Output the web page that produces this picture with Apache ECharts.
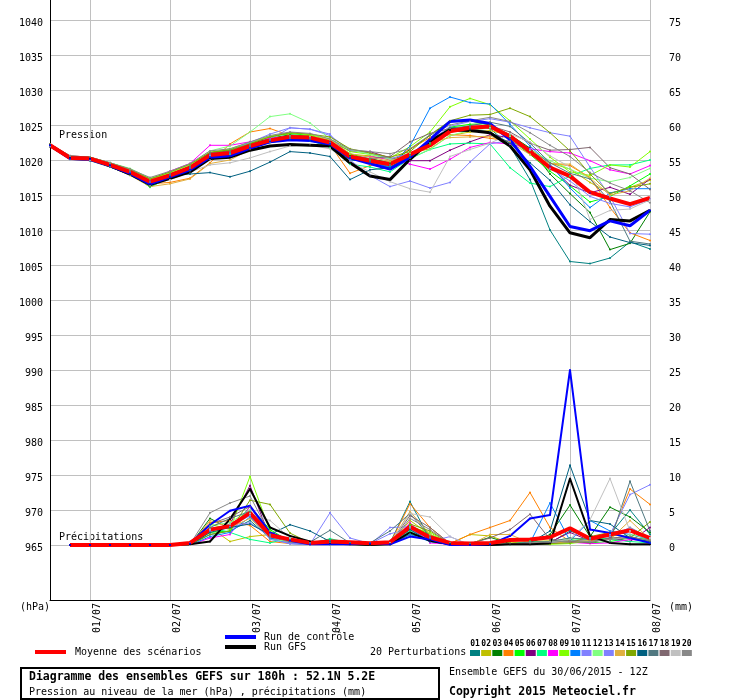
<!DOCTYPE html>
<html>
<head>
<meta charset="UTF-8">
<title>Ensemble GEFS</title>
<script src="https://cdn.jsdelivr.net/npm/echarts@6/dist/echarts.min.js"></script>
<style>
  body { margin: 0; background: #fff; }
  #main { width: 740px; height: 700px; }
</style>
</head>
<body>
<div id="main"></div>
<script type="text/javascript">
// echeances (pas de 6h, run du 30/06 12Z)
var times = ['30/06 12h','30/06 18h','01/07 00h','01/07 06h','01/07 12h','01/07 18h',
  '02/07 00h','02/07 06h','02/07 12h','02/07 18h','03/07 00h','03/07 06h','03/07 12h','03/07 18h',
  '04/07 00h','04/07 06h','04/07 12h','04/07 18h','05/07 00h','05/07 06h','05/07 12h','05/07 18h',
  '06/07 00h','06/07 06h','06/07 12h','06/07 18h','07/07 00h','07/07 06h','07/07 12h','07/07 18h','08/07 00h'];

var pressTicks = [965, 1040];
var precTicks = [0, 75];

var memberColors = ['#008080','#c0c000','#008000','#ff8000','#00ff00','#800080','#00ff80','#ff00ff','#80ff00','#0080ff',
  '#8080ff','#80ff80','#8080ff','#e0b040','#80a800','#006080','#507880','#806870','#c0c0c0','#888888'];

// pression (hPa)
var pMean = [1022.1,1020.3,1020.2,1019.3,1018.3,1016.9,1017.8,1018.9,1020.7,1021.0,1022.0,1022.8,1023.3,1023.2,1022.5,1020.5,
  1019.9,1019.4,1020.8,1022.1,1024.1,1024.6,1024.8,1023.4,1021.2,1018.9,1017.7,1015.4,1014.5,1013.7,1014.6];
var pCtrl = [1022.1,1020.2,1020.1,1019.2,1018.1,1016.6,1017.6,1018.6,1020.4,1020.6,1021.7,1022.6,1022.9,1022.8,1022.3,1020.3,
  1019.5,1018.7,1020.4,1022.9,1025.5,1025.7,1025.2,1022.9,1019.1,1014.8,1010.5,1009.9,1011.3,1010.6,1012.8];
var pGfs = [1022.1,1020.3,1020.2,1019.2,1018.0,1016.5,1017.4,1018.3,1020.2,1020.4,1021.4,1022.0,1022.2,1022.1,1022.0,1019.6,
  1017.7,1017.2,1020.1,1022.7,1024.3,1024.2,1023.9,1022.0,1018.6,1013.4,1009.6,1008.9,1011.5,1011.3,1012.8];
var presMembers = [
  [1022.0,1020.4,1020.3,1019.4,1018.2,1016.4,1017.6,1018.5,1020.3,1020.8,1021.8,1022.5,1022.9,1022.8,1022.0,1020.0,1019.8,1019.0,1020.6,1022.5,1024.6,1024.8,1024.5,1022.0,1017.2,1010.0,1005.5,1005.2,1006.0,1008.3,1007.3],
  [1022.2,1020.3,1020.2,1019.3,1018.5,1017.2,1018.1,1019.0,1020.5,1020.8,1021.6,1022.6,1023.0,1022.9,1022.5,1020.8,1020.6,1020.0,1021.0,1021.6,1023.5,1024.0,1024.2,1023.5,1021.6,1019.6,1018.7,1016.8,1015.2,1016.1,1017.1],
  [1022.2,1020.5,1020.3,1019.3,1018.4,1016.8,1017.9,1019.1,1021.0,1021.3,1022.3,1023.1,1023.6,1023.4,1022.4,1020.6,1020.2,1019.6,1021.5,1023.5,1025.5,1025.6,1025.0,1023.6,1021.7,1018.0,1015.2,1012.5,1007.2,1008.1,1012.6],
  [1022.1,1020.3,1020.1,1019.0,1017.9,1016.6,1016.8,1017.4,1019.6,1022.3,1024.0,1024.5,1023.5,1023.0,1022.2,1018.1,1019.2,1019.8,1021.6,1023.2,1023.6,1023.5,1023.1,1022.7,1021.5,1019.5,1019.2,1017.5,1013.2,1009.6,1008.5],
  [1022.2,1020.4,1020.2,1019.4,1018.2,1016.1,1017.6,1018.8,1021.0,1021.5,1022.4,1023.3,1023.8,1023.5,1022.8,1020.9,1020.1,1018.8,1020.6,1022.3,1024.7,1025.1,1025.2,1023.0,1020.8,1018.4,1016.3,1014.0,1014.8,1016.3,1018.0],
  [1022.3,1020.5,1020.4,1019.6,1018.5,1017.0,1018.0,1019.0,1020.5,1021.4,1022.1,1023.0,1023.4,1023.3,1022.7,1021.3,1021.2,1020.3,1019.9,1019.9,1021.4,1022.6,1023.6,1023.2,1021.6,1019.1,1016.4,1015.3,1016.1,1015.1,1017.3],
  [1022.1,1020.2,1020.1,1019.0,1018.0,1016.2,1017.4,1018.6,1020.4,1020.9,1021.7,1022.6,1023.0,1022.8,1021.8,1019.4,1019.0,1018.3,1020.2,1021.5,1022.3,1022.4,1022.3,1018.9,1016.7,1016.2,1017.7,1018.8,1019.3,1019.3,1020.0],
  [1022.3,1020.6,1020.4,1019.5,1018.6,1017.2,1018.4,1019.5,1022.1,1022.1,1022.6,1023.1,1023.4,1023.2,1022.3,1020.3,1020.5,1020.1,1019.4,1018.7,1020.1,1021.8,1022.5,1022.3,1021.6,1021.2,1021.0,1019.9,1018.6,1018.0,1019.2],
  [1022.2,1020.5,1020.3,1019.5,1018.6,1017.3,1018.2,1019.3,1021.1,1021.6,1022.5,1023.4,1023.9,1023.6,1023.0,1021.2,1020.8,1020.3,1021.9,1024.0,1027.6,1028.8,1027.9,1025.6,1023.0,1020.4,1018.3,1017.8,1019.3,1019.0,1021.2],
  [1022.1,1020.3,1020.2,1019.3,1018.3,1016.8,1017.7,1018.8,1020.6,1021.0,1022.0,1022.9,1023.4,1023.3,1022.4,1020.3,1019.5,1019.1,1022.0,1027.4,1029.0,1028.2,1028.0,1025.1,1022.0,1019.4,1016.0,1013.2,1015.3,1015.9,1015.9],
  [1022.0,1020.2,1020.1,1019.2,1018.3,1016.9,1017.8,1018.8,1020.7,1021.3,1022.5,1023.7,1024.6,1024.4,1023.5,1021.4,1021.0,1020.2,1020.9,1022.7,1024.8,1025.5,1025.9,1025.4,1024.6,1023.9,1023.4,1019.0,1014.8,1009.5,1009.4],
  [1022.2,1020.5,1020.4,1019.6,1018.8,1017.4,1018.3,1019.4,1021.3,1022.0,1024.0,1026.2,1026.6,1025.3,1023.0,1021.5,1020.8,1020.1,1020.3,1021.5,1023.5,1024.2,1024.6,1023.4,1021.4,1019.9,1018.7,1017.4,1016.9,1017.5,1018.8],
  [1022.0,1020.1,1020.0,1019.1,1018.0,1016.5,1017.3,1018.3,1020.1,1020.6,1021.6,1022.9,1024.6,1024.4,1023.7,1020.0,1017.8,1016.2,1017.0,1016.0,1016.8,1019.7,1022.3,1022.8,1021.5,1018.8,1017.0,1014.8,1013.8,1013.3,1014.4],
  [1022.1,1020.2,1020.1,1019.1,1017.8,1016.2,1016.6,1017.3,1019.5,1020.0,1021.5,1022.6,1023.4,1023.4,1022.9,1020.9,1020.4,1019.8,1020.9,1022.5,1023.2,1023.3,1023.4,1022.5,1020.8,1019.5,1019.4,1017.4,1015.0,1015.6,1017.4],
  [1022.3,1020.6,1020.4,1019.6,1018.7,1017.3,1018.3,1019.4,1021.1,1021.4,1022.3,1023.3,1023.9,1023.7,1023.3,1021.6,1021.0,1020.4,1021.2,1023.6,1025.6,1026.4,1026.5,1027.4,1026.2,1023.9,1021.3,1018.0,1015.2,1016.1,1016.6],
  [1021.9,1020.1,1019.9,1019.0,1017.9,1016.3,1017.8,1018.0,1018.2,1017.6,1018.4,1019.7,1021.2,1021.0,1020.5,1017.2,1018.6,1018.9,1020.7,1022.6,1024.5,1024.4,1024.0,1022.4,1019.6,1017.1,1013.6,1011.2,1009.0,1008.2,1007.8],
  [1022.1,1020.4,1020.3,1019.3,1018.4,1016.6,1017.7,1018.8,1020.9,1021.2,1022.0,1022.7,1023.1,1023.0,1022.2,1020.3,1019.9,1019.3,1020.6,1022.5,1024.3,1024.9,1025.4,1024.8,1022.4,1019.6,1018.1,1017.3,1014.1,1008.4,1008.0],
  [1022.2,1020.5,1020.3,1019.4,1018.4,1016.9,1018.0,1019.1,1021.0,1021.2,1022.1,1022.9,1023.4,1023.1,1022.4,1020.4,1020.2,1020.5,1022.6,1023.8,1024.5,1024.7,1024.9,1024.0,1022.4,1021.4,1021.5,1021.8,1018.9,1018.0,1015.8],
  [1022.0,1020.2,1020.0,1019.1,1018.0,1016.4,1017.2,1018.3,1019.3,1019.6,1020.3,1021.2,1022.0,1022.1,1021.6,1019.7,1018.3,1016.9,1015.9,1015.4,1020.5,1021.5,1022.4,1023.7,1022.6,1020.6,1019.0,1011.5,1012.8,1013.0,1014.3],
  [1022.2,1020.6,1020.4,1019.6,1018.7,1017.5,1018.4,1019.5,1021.3,1021.6,1022.6,1023.5,1024.0,1023.8,1023.0,1021.5,1021.2,1020.9,1021.6,1023.6,1025.0,1025.6,1026.1,1025.5,1023.9,1022.1,1020.5,1018.2,1016.7,1015.6,1013.9]
];

// precipitations (mm / 6h), de +6h a +180h
var rMean = [0,0,0,0,0,0,0.3,2.2,2.7,4.6,1.4,0.8,0.3,0.5,0.4,0.25,0.4,2.6,1.1,0.3,0.2,0.3,0.7,0.8,1.1,2.4,0.9,1.5,2.1,1.0];
var rCtrl = [0,0,0,0,0,0,0.2,2.9,4.9,5.6,1.8,0.6,0.1,0.1,0.1,0.2,0.1,1.2,0.8,0,0,0.1,1.3,3.8,4.3,25.0,2.2,1.7,1.0,0.3];
var rGfs = [0,0,0,0,0,0,0.1,0.5,3.7,8.0,2.5,1.3,0.5,0.2,0.1,0,0.1,1.8,0.6,0.1,0,0,0.1,0.1,0.2,9.5,1.3,0.3,0.1,0.1];
var precMembers = [
  [0,0,0,0,0,0,0.1,1.5,2.0,3.5,1.0,0.5,0.3,0.8,0.2,0.1,0.3,6.2,0.8,0.1,0,0,0.2,0.5,0.3,2.0,1.0,1.5,5.0,1.5],
  [0,0,0,0,0,0,0,2.5,0.5,1.2,1.5,0.4,0.2,0.1,0.1,0,0.2,3.5,1.5,0.2,1.5,1.3,0.3,0.5,0.6,0.4,0.8,1.0,2.5,1.0],
  [0,0,0,0,0,0,0,3.8,2.3,4.5,1.0,0.3,0.1,0.2,0.1,0.1,0.1,1.5,1.0,0.1,0.2,1.1,0.2,0.3,1.5,5.7,1.2,5.4,4.0,1.8],
  [0,0,0,0,0,0,0.2,3.2,3.5,2.8,0.5,0.2,0.1,0.3,0.1,0,0.2,5.9,2.5,0.2,1.5,2.5,3.5,7.5,2.5,0.5,0.4,1.0,8.0,5.8],
  [0,0,0,0,0,0,0,1.8,2.0,5.5,2.2,0.5,0.2,0.1,0.2,0.1,0.2,2.8,1.5,0.2,0,0.1,0.1,0.2,0.4,0.8,0.3,0.5,1.0,0.8],
  [0,0,0,0,0,0,0.1,2.0,3.0,8.5,1.0,0.3,0.1,0.4,0.2,0.1,0.1,2.2,0.8,0.1,0,0,0.1,0.2,0.4,1.8,0.6,1.0,0.5,2.5],
  [0,0,0,0,0,0,0,2.5,1.8,0.8,0.3,1.0,0.1,0.9,0.3,0.1,0.2,2.0,0.5,0.1,0,0,0.1,0.5,0.3,0.5,1.2,0.8,0.5,0.3],
  [0,0,0,0,0,0,0,1.0,1.5,5.5,1.5,0.4,0.1,0.2,0.1,0,0.1,3.2,0.3,0.1,0,0,0.1,0.1,0.2,0.4,0.2,0.3,0.8,0.5],
  [0,0,0,0,0,0,0.1,3.0,2.2,9.8,2.0,0.3,0.1,0.2,0.1,0,0.1,2.5,1.8,0.1,0,0,0.1,0.2,0.1,0.2,0.6,1.5,1.2,0.5],
  [0,0,0,0,0,0,0,1.2,1.8,4.0,1.0,0.2,0.1,0.1,0.1,0,0.1,1.5,0.5,0.1,0,0,0.1,0.3,6.0,0.6,3.5,2.0,1.5,0.8],
  [0,0,0,0,0,0,0.2,2.2,2.6,3.2,1.2,0.2,0.1,4.6,1.0,0.2,1.6,2.3,0.5,1.2,0,0,0.1,0.2,0.3,0.5,0.8,1.5,7.2,8.6],
  [0,0,0,0,0,0,0,2.8,3.2,5.0,0.8,0.5,0.2,0.3,0.2,0.1,0.1,1.8,0.6,0.1,0,0,0.1,0.2,0.5,1.0,0.6,0.8,1.5,0.9],
  [0,0,0,0,0,0,0,2.0,2.6,4.2,0.8,0.2,0.1,0.5,0.2,0.1,2.5,2.6,1.0,0.1,0,0,0.1,0.2,0.3,0.4,1.0,1.2,2.5,1.0],
  [0,0,0,0,0,0,0,3.5,2.5,3.8,1.2,0.6,0.2,0.1,0.1,0.1,0.2,4.8,1.5,0.1,0,1.5,1.5,0.3,0.2,0.5,0.6,0.8,3.5,0.8],
  [0,0,0,0,0,0,0,1.5,2.0,6.4,5.8,1.7,0.3,0.2,0.1,0,0.1,3.0,2.0,0.2,0,0.2,0.1,0.1,0.2,0.3,1.2,1.8,1.0,3.3],
  [0,0,0,0,0,0,0,1.8,2.5,3.0,1.5,2.9,2.0,0.5,0.3,0.2,0.3,2.2,0.5,0.1,0,0,0.1,0.3,2.0,11.4,3.5,3.0,1.0,0.5],
  [0,0,0,0,0,0,0,2.5,3.8,4.8,1.8,0.8,0.4,2.1,0.3,0.3,2.0,4.5,1.2,0.2,0,0,0.1,0.4,0.5,1.0,0.8,0.5,9.1,2.0],
  [0,0,0,0,0,0,0.1,3.0,4.0,5.5,1.2,0.5,0.2,0.3,0.1,0.1,0.2,4.2,2.5,0.2,0.2,1.0,2.2,4.4,0.8,0.5,0.3,1.0,1.2,0.6],
  [0,0,0,0,0,0,0,2.2,3.0,4.5,3.5,1.0,0.3,0.2,0.1,0.1,0.3,4.5,4.0,1.2,0,0,0.1,0.2,0.4,0.8,3.6,9.5,2.0,1.0],
  [0,0,0,0,0,0,0.1,4.6,6.0,7.0,1.5,0.4,0.2,0.3,0.1,0,0.1,3.8,2.2,0.2,0,0.1,0.2,0.3,0.4,0.6,0.5,0.8,1.0,0.7]
];

var mono = '"DejaVu Sans Mono", monospace';

function isDay(idx, val) {
  return val.slice(6) === '00h';
}

// la pluie commence a +6h
function rain(arr) {
  return [null].concat(arr);
}

function plain(v) {
  return String(v);
}

function thin(name, data, color, yIdx) {
  return {
    name: name, type: 'line', xAxisIndex: 1, yAxisIndex: yIdx,
    data: data, symbol: 'circle', symbolSize: 2,
    lineStyle: { color: color, width: 1 }, itemStyle: { color: color }
  };
}

function thick(name, data, color, w, yIdx, sym) {
  return {
    name: name, type: 'line', xAxisIndex: 1, yAxisIndex: yIdx,
    data: data, symbol: 'circle', symbolSize: sym, showSymbol: sym > 0,
    lineStyle: { color: color, width: w }, itemStyle: { color: color }
  };
}

var series = [];
for (var i = 0; i < presMembers.length; i++) {
  series.push(thin('P' + (i + 1), presMembers[i], memberColors[i], 1));
  series.push(thin('R' + (i + 1), rain(precMembers[i]), memberColors[i], 2));
}
series.push(thick('GFS', pGfs, '#000000', 3, 1, 2));
series.push(thick('GFS pluie', rain(rGfs), '#000000', 2, 2, 2));
series.push(thick('Controle', pCtrl, '#0000ff', 3, 1, 2));
series.push(thick('Controle pluie', rain(rCtrl), '#0000ff', 2, 2, 2));
series.push(thick('Moyenne', pMean, '#ff0000', 4, 1, 0));
series.push(thick('Moyenne pluie', rain(rMean), '#ff0000', 4, 2, 0));

// legende et textes
var graphics = [
  { type: 'text', x: 59, y: 135, style: { text: 'Pression', font: '10px ' + mono, fill: '#000', textVerticalAlign: 'middle' } },
  { type: 'text', x: 59, y: 537, style: { text: 'Précipitations', font: '10px ' + mono, fill: '#000', textVerticalAlign: 'middle' } },
  { type: 'text', x: 20, y: 607, style: { text: '(hPa)', font: '10px ' + mono, fill: '#000', textVerticalAlign: 'middle' } },
  { type: 'text', x: 669, y: 607, style: { text: '(mm)', font: '10px ' + mono, fill: '#000', textVerticalAlign: 'middle' } },
  { type: 'rect', shape: { x: 35, y: 650, width: 31, height: 4 }, style: { fill: '#ff0000' } },
  { type: 'text', x: 75, y: 652, style: { text: 'Moyenne des scénarios', font: '10px ' + mono, fill: '#000', textVerticalAlign: 'middle' } },
  { type: 'rect', shape: { x: 225, y: 635, width: 31, height: 4 }, style: { fill: '#0000ff' } },
  { type: 'text', x: 264, y: 637, style: { text: 'Run de contrôle', font: '10px ' + mono, fill: '#000', textVerticalAlign: 'middle' } },
  { type: 'rect', shape: { x: 225, y: 645, width: 31, height: 4 }, style: { fill: '#000000' } },
  { type: 'text', x: 264, y: 647, style: { text: 'Run GFS', font: '10px ' + mono, fill: '#000', textVerticalAlign: 'middle' } },
  { type: 'text', x: 370, y: 652, style: { text: '20 Perturbations', font: '10px ' + mono, fill: '#000', textVerticalAlign: 'middle' } },
  { type: 'rect', shape: { x: 21, y: 668, width: 418, height: 31 }, style: { fill: 'none', stroke: '#000', lineWidth: 2 } },
  { type: 'text', x: 29, y: 677, style: { text: 'Diagramme des ensembles GEFS sur 180h : 52.1N 5.2E', font: 'bold 11.5px ' + mono, fill: '#000', textVerticalAlign: 'middle' } },
  { type: 'text', x: 29, y: 692, style: { text: 'Pression au niveau de la mer (hPa) , précipitations (mm)', font: '10px ' + mono, fill: '#000', textVerticalAlign: 'middle' } },
  { type: 'text', x: 449, y: 672, style: { text: 'Ensemble GEFS du 30/06/2015 - 12Z', font: '10px ' + mono, fill: '#000', textVerticalAlign: 'middle' } },
  { type: 'text', x: 449, y: 692, style: { text: 'Copyright 2015 Meteociel.fr', font: 'bold 11.5px ' + mono, fill: '#000', textVerticalAlign: 'middle' } }
];
for (var k = 0; k < memberColors.length; k++) {
  var sx = 470 + k * 11.15;
  graphics.push({ type: 'rect', shape: { x: sx, y: 650, width: 10, height: 6 }, style: { fill: memberColors[k] } });
  graphics.push({ type: 'text', x: sx + 5, y: 644, style: { text: (k < 9 ? '0' : '') + (k + 1), font: 'bold 8px ' + mono, fill: '#000', textAlign: 'center', textVerticalAlign: 'middle' } });
}

var myChart = echarts.init(document.getElementById('main'));
var option = {
  animation: false,
  backgroundColor: '#fff',
  grid: [
    { left: 50, top: 0, width: 600, height: 600 },
    { left: 50, top: 20, width: 600, height: 525 }
  ],
  xAxis: [
    {
      type: 'category', gridIndex: 0, data: times, boundaryGap: false,
      axisLine: { onZero: false, lineStyle: { color: '#000', width: 1 } },
      axisTick: { show: false },
      splitLine: { show: true, interval: isDay, lineStyle: { color: '#c0c0c0', width: 1 } },
      axisLabel: {
        interval: isDay, rotate: 90, margin: 3, color: '#000', fontFamily: mono, fontSize: 10,
        verticalAlign: 'top', padding: [2, 0, 0, 0],
        formatter: function (v) { return v.slice(0, 5); }
      }
    },
    { type: 'category', gridIndex: 1, data: times, boundaryGap: false, show: false }
  ],
  yAxis: [
    {
      type: 'value', gridIndex: 0, min: 0, max: 1,
      axisLine: { show: true, lineStyle: { color: '#000', width: 1 } },
      axisTick: { show: false }, axisLabel: { show: false }, splitLine: { show: false }
    },
    {
      type: 'value', gridIndex: 1, min: pressTicks[0], max: pressTicks[1], interval: 5,
      axisLine: { show: false }, axisTick: { show: false },
      axisLabel: { margin: 7, color: '#000', fontFamily: mono, fontSize: 10, verticalAlign: 'top', lineHeight: 6, formatter: plain },
      splitLine: { show: true, lineStyle: { color: '#c0c0c0', width: 1 } }
    },
    {
      type: 'value', gridIndex: 1, position: 'right', min: precTicks[0], max: precTicks[1], interval: 5,
      axisLine: { show: false }, axisTick: { show: false },
      axisLabel: { margin: 19, color: '#000', fontFamily: mono, fontSize: 10, verticalAlign: 'top', lineHeight: 6, formatter: plain },
      splitLine: { show: false }
    }
  ],
  graphic: graphics,
  series: series
};
myChart.setOption(option, true);
</script>
</body>
</html>
